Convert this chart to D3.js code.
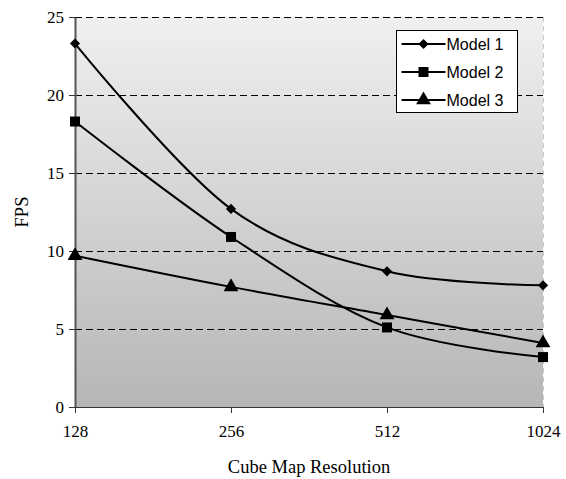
<!DOCTYPE html>
<html>
<head>
<meta charset="utf-8">
<script src="https://cdn.jsdelivr.net/npm/d3@7"></script>
<style>
  body { margin: 0; background: #fff; }
</style>
</head>
<body>
<div id="chart"></div>
<script>
///////////////////////////////////////////////////////////////////////////////////////////////////

// data
var resolutions = ["128", "256", "512", "1024"];
var model1 = [23.3, 12.7, 8.7, 7.8];
var model2 = [18.3, 10.9, 5.1, 3.2];
var model3 = [9.7, 7.7, 5.9, 4.1];
var series_names = ["Model 1", "Model 2", "Model 3"];
var y_ticks = [0, 5, 10, 15, 20, 25];

///////////////////////////////////////////////////////////////////////////////////////////////////

var svg_width = 566, svg_height = 479;
var margin = { top: 17, right: 23, bottom: 72, left: 75 };
var serif = "'Liberation Serif', 'Times New Roman', serif";

var svg = d3.select("#chart")
  .append("svg")
    .attr("width", svg_width)
    .attr("height", svg_height);

var x = d3.scalePoint()
    .domain(resolutions)
    .range([margin.left, svg_width - margin.right]);

var y = d3.scaleLinear()
    .domain([0, 25])
    .range([svg_height - margin.bottom, margin.top]);

var x_first = x(resolutions[0]);
var x_last = x(resolutions[resolutions.length - 1]);

// gradient plot area
var defs = svg.append("defs");
var grad = defs.append("linearGradient")
    .attr("id", "bg")
    .attr("x1", 0).attr("y1", 0).attr("x2", 0).attr("y2", 1);
grad.append("stop").attr("offset", "0%").attr("stop-color", "#f0f0f0");
grad.append("stop").attr("offset", "100%").attr("stop-color", "#b6b6b6");

svg.append("rect")
    .attr("x", x_first)
    .attr("y", y(25))
    .attr("width", x_last - x_first)
    .attr("height", y(0) - y(25))
    .attr("fill", "url(#bg)");

// right border dashed
svg.append("line")
    .attr("x1", x_last + 0.5)
    .attr("x2", x_last + 0.5)
    .attr("y1", y(25))
    .attr("y2", y(0))
    .attr("stroke", "#c8c8c8")
    .attr("stroke-dasharray", "5,4");

// dashed gridlines
svg.selectAll(".grid")
    .data(y_ticks.filter(function(d) { return d > 0; }))
    .join("line")
    .attr("class", "grid")
    .attr("x1", x_first)
    .attr("x2", x_last)
    .attr("y1", function(d) { return Math.round(y(d)) + 0.5; })
    .attr("y2", function(d) { return Math.round(y(d)) + 0.5; })
    .attr("stroke", "#000")
    .attr("stroke-width", 1)
    .attr("shape-rendering", "crispEdges")
    .attr("stroke-dasharray", "7,4");

// y axis
var y_axis = svg.append("g")
    .attr("transform", "translate(" + x_first + ",0)")
    .call(d3.axisLeft(y).tickValues(y_ticks).tickSize(6).tickSizeOuter(0).tickPadding(5));
y_axis.select(".domain").attr("stroke", "#555").attr("stroke-width", 2);
y_axis.selectAll(".tick line").attr("stroke", "#333");
y_axis.selectAll("text")
    .style("font-family", serif)
    .style("font-size", "17px")
    .attr("fill", "#000");

// x axis
var x_axis = svg.append("g")
    .attr("transform", "translate(0," + y(0) + ")")
    .call(d3.axisBottom(x).tickSize(6).tickSizeOuter(0).tickPadding(12));
x_axis.select(".domain").attr("stroke", "#333").attr("stroke-width", 1);
x_axis.selectAll(".tick line").attr("stroke", "#333");
x_axis.selectAll("text")
    .style("font-family", serif)
    .style("font-size", "17px")
    .attr("fill", "#000");

// axis labels
svg.append("text")
    .attr("x", (x_first + x_last) / 2)
    .attr("y", 473)
    .style("text-anchor", "middle")
    .style("font-family", serif)
    .style("font-size", "18.5px")
    .text("Cube Map Resolution");

svg.append("text")
    .attr("transform", "rotate(-90)")
    .attr("x", 0 - (y(0) + y(25)) / 2)
    .attr("y", 28)
    .style("text-anchor", "middle")
    .style("font-family", serif)
    .style("font-size", "18.5px")
    .text("FPS");

// lines
var all_series = [model1, model2, model3];
var shapes = [d3.symbolSquare, d3.symbolSquare, d3.symbolTriangle];
var sizes = [52, 100, 95];
var rotations = [45, 0, 0];

var line = d3.line()
    .x(function(d, i) { return x(resolutions[i]); })
    .y(function(d) { return y(d); })
    .curve(d3.curveCatmullRom.alpha(0));

all_series.forEach(function(values, s) {
    svg.append("path")
        .attr("d", line(values))
        .attr("fill", "none")
        .attr("stroke", "#000")
        .attr("stroke-width", 2);
    svg.selectAll(".pt" + s)
        .data(values)
        .join("path")
        .attr("class", "pt" + s)
        .attr("transform", function(d, i) {
            return "translate(" + x(resolutions[i]) + "," + y(d) + ") rotate(" + rotations[s] + ")";
        })
        .attr("d", d3.symbol().type(shapes[s]).size(sizes[s]))
        .attr("fill", "#000");
});

// legend
var legend = svg.append("g").attr("transform", "translate(396.5,30.5)");
legend.append("rect")
    .attr("width", 121)
    .attr("height", 82)
    .attr("fill", "#fff")
    .attr("stroke", "#000")
    .attr("stroke-width", 1);

series_names.forEach(function(name, s) {
    var ly = 13.5 + s * 28;
    legend.append("line")
        .attr("x1", 5).attr("x2", 49)
        .attr("y1", ly).attr("y2", ly)
        .attr("stroke", "#000")
        .attr("stroke-width", 2);
    legend.append("path")
        .attr("transform", "translate(27," + ly + ") rotate(" + rotations[s] + ")")
        .attr("d", d3.symbol().type(shapes[s]).size(sizes[s]))
        .attr("fill", "#000");
    legend.append("text")
        .attr("x", 50)
        .attr("y", ly + 5.5)
        .style("font-family", "'Liberation Sans', Arial, sans-serif")
        .style("font-size", "16px")
        .text(name);
});
</script>
</body>
</html>
